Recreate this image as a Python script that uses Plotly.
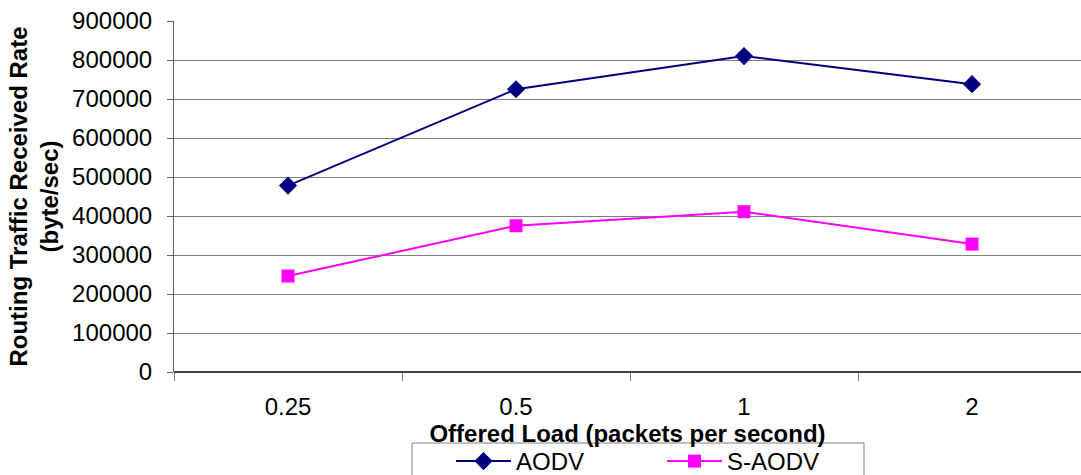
import plotly.graph_objects as go

categories = ["0.25", "0.5", "1", "2"]
aodv = [478000, 725000, 810000, 738000]
s_aodv = [246000, 375000, 411000, 328000]

FONT = "Liberation Sans, Arial, sans-serif"

W, H = 1081, 475
L, R, T, B = 174, 0, 21, 103
PW, PH = W - L - R, H - T - B


def px_x(p):
    return (p - L) / PW


def px_y(p):
    return (H - B - p) / PH


fig = go.Figure()
fig.add_trace(go.Scatter(
    x=categories, y=aodv, name="AODV", mode="lines+markers",
    line=dict(color="#000080", width=2),
    marker=dict(symbol="diamond", size=14, color="#000080"),
))
fig.add_trace(go.Scatter(
    x=categories, y=s_aodv, name="S-AODV", mode="lines+markers",
    line=dict(color="#FF00FF", width=2),
    marker=dict(symbol="square", size=13, color="#FF00FF"),
))

fig.add_shape(type="rect", xref="paper", yref="paper",
              x0=px_x(412), x1=px_x(864), y0=px_y(480), y1=px_y(443),
              line=dict(color="#808080", width=1), fillcolor="rgba(0,0,0,0)",
              layer="above")

fig.update_layout(
    width=W, height=H,
    margin=dict(l=L, r=R, t=T, b=B, autoexpand=False),
    paper_bgcolor="white", plot_bgcolor="white",
    font=dict(family=FONT, color="black", size=24),
    showlegend=True,
    legend=dict(
        orientation="h", x=px_x(451), y=px_y(439), xanchor="left", yanchor="top",
        borderwidth=0, entrywidth=141, bgcolor="rgba(0,0,0,0)",
        font=dict(size=24), itemwidth=55,
    ),
    xaxis=dict(
        type="category", range=[-0.5, 3.478], automargin=False,
        tickson="boundaries", ticks="outside", ticklen=8, tickcolor="#808080",
        ticklabelstandoff=18,
        showgrid=False, showline=False, zeroline=False,
        tickfont=dict(size=24),
        title=dict(text="<b>Offered Load (packets per second)</b>",
                   font=dict(size=24), standoff=0),
    ),
    yaxis=dict(
        range=[0, 900000], automargin=False,
        tickvals=[0, 100000, 200000, 300000, 400000, 500000, 600000, 700000, 800000, 900000],
        ticktext=["0", "100000", "200000", "300000", "400000", "500000",
                  "600000", "700000", "800000", "900000"],
        ticks="outside", ticklen=6, tickcolor="#606060",
        ticklabelstandoff=10,
        showgrid=True, gridcolor="#808080", gridwidth=1,
        showline=True, linecolor="#606060", linewidth=1,
        zeroline=True, zerolinecolor="#404040", zerolinewidth=2,
        tickfont=dict(size=24),
        title=dict(text="<b>Routing Traffic Received Rate<br>(byte/sec)</b>",
                   font=dict(size=24), standoff=6),
    ),
)

fig.write_html("out.html", config={"displayModeBar": False},
               post_script="document.body.style.margin='0';")
